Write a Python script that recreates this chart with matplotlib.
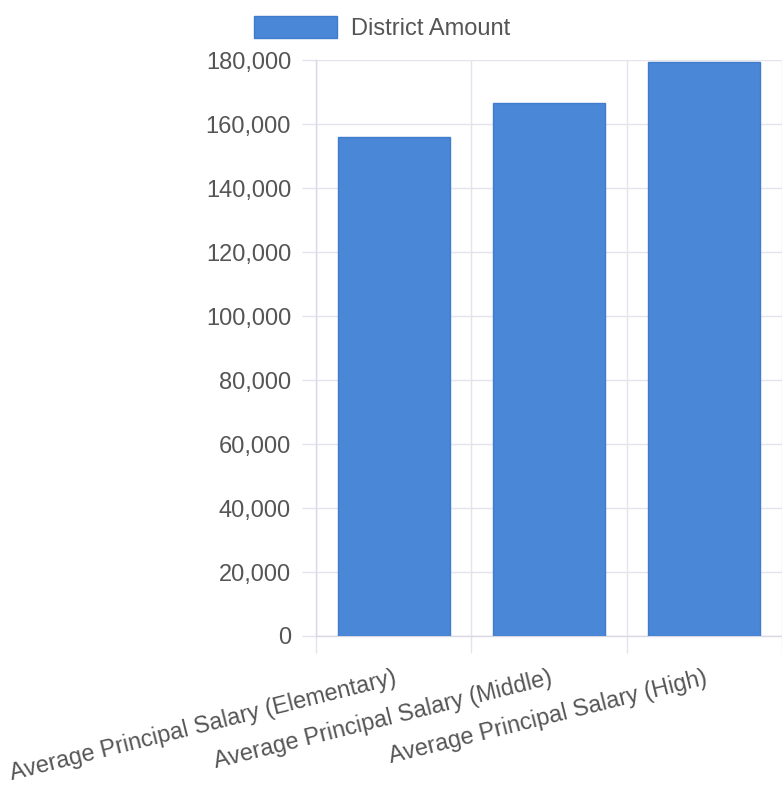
import matplotlib
matplotlib.use("Agg")
import matplotlib.pyplot as plt
from matplotlib.patches import Patch
from matplotlib.ticker import FuncFormatter, FixedLocator

categories = ["Average Principal Salary (Elementary)",
              "Average Principal Salary (Middle)",
              "Average Principal Salary (High)"]
district_amount = [156000, 166700, 179400]
series_label = "District Amount"
y_ticks = list(range(0, 180001, 20000))

plt.rcParams['font.family'] = ['Liberation Sans', 'DejaVu Sans']
text_color = "#555555"
bar_color = "#4a87d6"
grid_color = "#e4e4ec"

fig = plt.figure(figsize=(7.82, 7.87), dpi=100)
W, H = 782, 787
ax = fig.add_axes([316 / W, 1 - 636 / H, (782 - 316) / W, (636 - 60) / H])

x = list(range(len(categories)))
ax.bar(x, district_amount, width=0.72, color=bar_color, edgecolor="#3f7dcc",
       linewidth=1, zorder=3)

ax.set_xlim(-0.5, 2.5)
ax.set_ylim(0, 180000)
ax.yaxis.set_major_locator(FixedLocator(y_ticks))
ax.yaxis.set_major_formatter(FuncFormatter(lambda v, p: f"{int(v):,}"))
ax.set_xticks(x)
ax.set_xticklabels(categories, rotation=14, ha='right', rotation_mode='anchor')
ax.set_xticks([-0.5, 0.5, 1.5, 2.5], minor=True)

ax.tick_params(axis='y', labelsize=17, colors=grid_color, labelcolor=text_color,
               length=10, width=1, pad=8)
ax.tick_params(axis='x', which='major', length=0, labelsize=16.8, labelcolor=text_color, pad=22)
ax.tick_params(axis='x', which='minor', length=12, width=1, colors=grid_color)

ax.grid(axis='y', color=grid_color, linewidth=1, zorder=0)
ax.grid(axis='x', which='minor', color=grid_color, linewidth=1, zorder=0)

for s in ['top', 'right']:
    ax.spines[s].set_visible(False)
for s in ['left', 'bottom']:
    ax.spines[s].set_color("#d8d8e6")
    ax.spines[s].set_linewidth(1)

handle = Patch(facecolor=bar_color, edgecolor="#3f7dcc")
fig.legend([handle], [series_label], loc='center left',
           bbox_to_anchor=(254 / W, 1 - 28 / H), frameon=False,
           fontsize=17, labelcolor=text_color, handlelength=3.5,
           handleheight=1.1, handletextpad=0.6, borderpad=0, borderaxespad=0)

fig.savefig("out.png", dpi=100)
